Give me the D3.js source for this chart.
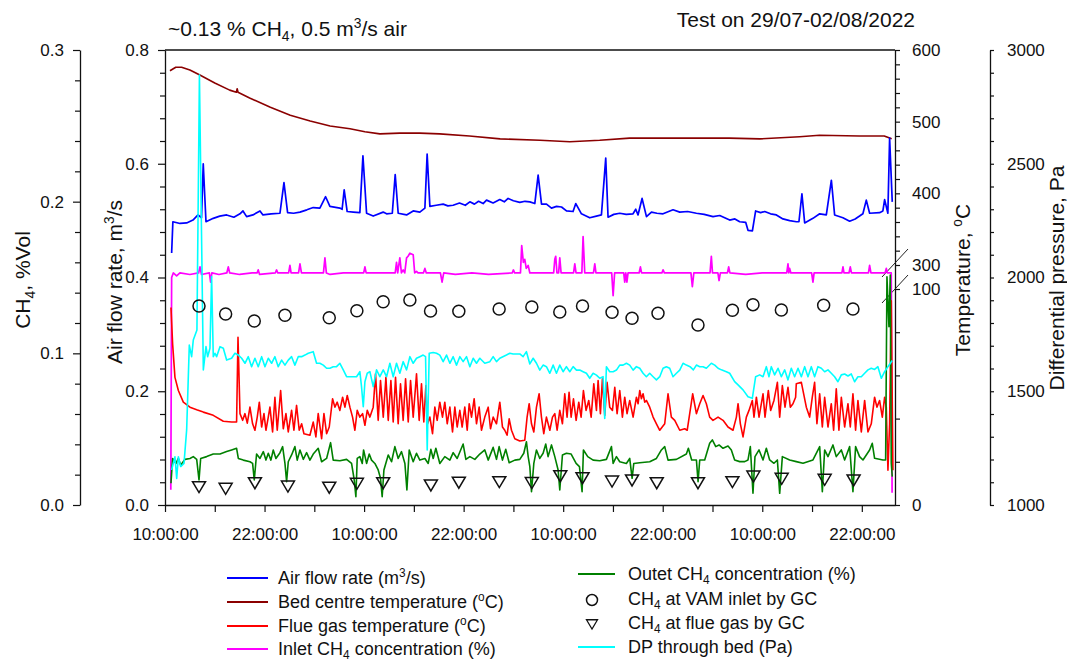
<!DOCTYPE html>
<html>
<head>
<meta charset="utf-8">
<script src="https://cdn.jsdelivr.net/npm/d3@7"></script>
<style>
  html, body { margin: 0; padding: 0; background: #fff; }
  svg text { font-family: "Liberation Sans", Arial, sans-serif; fill: #111; }
</style>
</head>
<body>
<svg id="chart" width="1067" height="663"></svg>
<script>
// ---- time axis: hours elapsed since 29/07/2022 10:00 ----
const startTime = new Date(2022, 6, 29, 10, 0, 0);
const endHours = 88;
const xTickHours = [0, 6, 12, 18, 24, 30, 36, 42, 48, 54, 60, 66, 72, 78, 84];

// ---- axis tick values ----
const airMajor = [0, 0.2, 0.4, 0.6, 0.8];
const airMinor = [0.04, 0.08, 0.12, 0.16, 0.24, 0.28, 0.32, 0.36, 0.44, 0.48, 0.52, 0.56, 0.64, 0.68, 0.72, 0.76];
const ch4Major = [0, 0.1, 0.2, 0.3];
const ch4Minor = [0.02, 0.04, 0.06, 0.08, 0.12, 0.14, 0.16, 0.18, 0.22, 0.24, 0.26, 0.28];
const tempMajor = [0, 100, 300, 400, 500, 600];
const tempMinor = [20, 40, 60, 80, 320, 340, 360, 380, 420, 440, 460, 480, 520, 540, 560, 580];
const dpMajor = [1000, 1500, 2000, 2500, 3000];
const dpMinor = [1100, 1200, 1300, 1400, 1600, 1700, 1800, 1900, 2100, 2200, 2300, 2400, 2600, 2700, 2800, 2900];

// ---- series: [hours, value] ----
// Air flow rate, m3/s
const airFlow = [[0.80,0.443],[0.95,0.498],[1.81,0.495],[2.61,0.496],[3.37,0.501],[3.98,0.510],[4.40,0.505],[4.61,0.600],[4.94,0.498],[5.82,0.504],[6.6,0.508],[7.43,0.510],[8.3,0.506],[9.04,0.512],[9.40,0.517],[9.84,0.507],[10.6,0.510],[11.45,0.517],[11.81,0.510],[12.8,0.512],[13.86,0.513],[14.34,0.567],[14.78,0.514],[15.5,0.513],[16.27,0.515],[17.1,0.519],[17.87,0.523],[18.67,0.522],[19.36,0.542],[19.88,0.525],[21.08,0.522],[21.35,0.520],[21.60,0.554],[21.96,0.516],[22.7,0.515],[23.49,0.514],[23.86,0.614],[24.30,0.513],[25.10,0.508],[26.30,0.515],[26.71,0.512],[27.40,0.513],[27.75,0.581],[28.11,0.513],[29.12,0.510],[29.92,0.517],[30.72,0.515],[31.33,0.522],[31.60,0.617],[31.93,0.525],[32.7,0.527],[33.53,0.529],[34.1,0.526],[34.73,0.527],[35.5,0.531],[36.2,0.527],[36.75,0.533],[37.3,0.529],[37.8,0.534],[38.35,0.530],[38.76,0.536],[39.55,0.531],[40.36,0.537],[40.9,0.533],[41.36,0.539],[42.0,0.535],[42.77,0.532],[43.4,0.534],[43.98,0.533],[44.58,0.530],[44.98,0.580],[45.39,0.529],[45.99,0.529],[46.59,0.522],[47.2,0.525],[47.80,0.524],[48.40,0.517],[49.19,0.516],[49.52,0.530],[50.20,0.512],[51.20,0.505],[52.0,0.508],[52.61,0.510],[53.13,0.610],[53.41,0.506],[54.1,0.511],[54.82,0.513],[55.6,0.511],[56.42,0.512],[56.75,0.520],[57.02,0.510],[57.51,0.539],[58.04,0.507],[58.64,0.515],[59.3,0.513],[60.04,0.512],[61.24,0.519],[62.05,0.515],[63.0,0.516],[64.06,0.513],[65.0,0.511],[66.06,0.507],[66.87,0.509],[68.07,0.501],[68.7,0.503],[69.28,0.498],[70.00,0.497],[70.28,0.483],[70.81,0.482],[71.20,0.517],[71.8,0.514],[72.29,0.516],[73.00,0.512],[73.70,0.510],[74.49,0.503],[75.3,0.500],[76.11,0.498],[76.42,0.498],[76.78,0.547],[77.11,0.496],[78.11,0.504],[78.92,0.512],[79.72,0.510],[80.33,0.571],[80.72,0.510],[81.72,0.505],[82.53,0.499],[83.2,0.503],[83.73,0.508],[84.13,0.512],[84.54,0.536],[84.94,0.513],[86.14,0.514],[86.54,0.517],[86.75,0.537],[87.14,0.513],[87.35,0.645],[87.67,0.533]];

// Bed centre temperature, degC
const bedTemp = [[0.6,571],[1.3,576],[2.0,576],[3.0,572],[4.2,565],[6.0,554],[7.8,544],[8.6,541],[8.7,546],[8.8,541],[10.2,533],[12.7,520],[15.1,509],[17.5,501],[19.9,494],[22.3,490],[24.1,486],[25.9,483],[28.3,484],[30.7,484],[33.1,483],[36.7,480],[40.4,476],[45.2,474],[48.8,472],[52.4,474],[56.0,477],[60.0,477],[64.5,477],[68.0,477],[71.7,476],[76.5,479],[78.9,481],[83.7,480],[86.7,480],[87.6,476]];

// Flue gas temperature, degC
const flueGasTemp = [[0.72,91.4],[0.92,74.5],[1.20,59.1],[1.61,53.0],[2.21,47.6],[3.01,45.3],[3.82,44.1],[4.62,43.0],[5.82,41.5],[7.03,38.8],[8.03,38.4],[8.63,38.4],[8.80,77.6],[9.04,42.3],[9.36,39.2],[9.64,42.3],[9.92,37.9],[10.24,45.3],[10.56,37.6],[10.84,34.6],[11.12,40.7],[11.37,47.6],[11.65,36.1],[11.93,42.3],[12.17,34.6],[12.45,40.7],[12.65,45.3],[12.97,33.8],[13.25,49.9],[13.53,34.6],[13.94,53.0],[14.26,35.3],[14.58,42.3],[14.86,33.8],[15.26,43.8],[15.54,34.6],[15.86,46.1],[16.18,34.6],[16.47,37.6],[16.75,33.0],[17.47,32.3],[17.87,38.4],[18.19,31.5],[18.47,42.3],[18.88,30.7],[19.16,42.3],[19.48,33.0],[19.80,36.1],[20.20,49.2],[20.48,45.3],[20.76,47.6],[21.08,43.8],[21.41,49.9],[21.69,45.3],[21.97,50.7],[22.29,45.3],[22.61,40.7],[22.89,34.6],[23.17,43.8],[23.49,40.7],[23.82,42.3],[24.10,36.9],[24.38,43.8],[24.70,40.7],[25.10,45.3],[25.38,60.7],[25.70,39.2],[25.98,57.6],[26.31,40.7],[26.63,59.1],[26.91,39.2],[27.23,57.6],[27.51,38.4],[27.79,59.1],[28.11,37.6],[28.39,56.1],[28.71,39.2],[29.00,58.4],[29.32,38.4],[29.60,57.6],[29.92,40.7],[30.32,60.7],[30.64,39.2],[30.92,56.1],[31.20,38.4],[31.45,55.3],[31.65,37.6],[31.93,40.7],[32.25,33.0],[32.53,45.3],[32.81,39.2],[33.13,47.6],[33.45,40.7],[33.73,47.6],[34.02,37.6],[34.34,45.3],[34.66,33.8],[34.94,45.3],[35.22,36.1],[35.54,43.8],[35.82,36.1],[36.14,45.3],[36.43,34.6],[36.67,46.9],[36.95,40.7],[37.27,49.2],[37.55,37.6],[37.87,45.3],[38.15,34.6],[38.55,40.7],[38.96,45.3],[39.24,35.3],[39.56,40.7],[39.96,37.6],[40.36,47.6],[40.68,36.1],[40.96,34.6],[41.24,32.3],[41.49,39.9],[41.77,34.6],[42.17,30.7],[42.77,29.6],[43.37,30.0],[43.65,40.7],[43.90,46.9],[44.18,37.6],[44.46,33.8],[44.78,45.3],[45.10,51.5],[45.38,40.7],[45.66,33.0],[45.98,40.7],[46.39,34.6],[46.71,40.7],[46.99,42.3],[47.27,34.6],[47.59,43.8],[47.91,37.6],[48.19,51.5],[48.47,40.7],[48.71,52.2],[48.96,40.7],[49.24,49.2],[49.56,39.2],[49.88,47.6],[50.16,40.7],[50.44,53.0],[50.76,43.8],[51.08,48.4],[51.37,40.7],[51.69,56.1],[52.01,43.8],[52.21,57.6],[52.49,42.3],[52.73,58.4],[53.01,41.5],[53.29,56.8],[53.61,45.3],[53.94,43.8],[54.22,54.5],[54.50,42.3],[54.82,53.0],[55.14,40.7],[55.42,49.9],[55.70,42.3],[56.02,48.4],[56.43,40.7],[56.83,49.9],[57.03,46.9],[57.23,53.0],[57.43,49.2],[57.63,51.5],[57.83,47.6],[58.03,48.4],[58.43,45.3],[58.84,40.7],[59.24,37.6],[59.64,34.6],[60.24,37.6],[60.64,51.5],[61.04,40.7],[61.45,39.2],[62.05,34.6],[62.65,35.3],[62.95,34.6],[63.61,51.5],[64.06,42.3],[64.46,46.9],[64.86,50.7],[65.26,46.9],[65.66,40.7],[66.06,39.2],[66.67,40.7],[67.27,39.2],[67.87,36.1],[68.47,34.6],[68.88,40.7],[69.08,46.9],[69.36,37.6],[69.68,31.5],[70.08,40.7],[70.40,43.8],[70.80,48.4],[71.00,40.7],[71.29,49.9],[71.61,40.7],[72.09,51.5],[72.33,40.7],[72.73,53.0],[73.01,43.8],[73.41,48.4],[73.82,56.8],[74.10,40.7],[74.42,55.3],[74.74,45.3],[75.10,54.5],[75.38,45.3],[75.70,46.9],[76.02,49.9],[76.10,56.1],[76.71,56.8],[77.31,45.3],[77.71,40.7],[78.03,49.9],[78.31,56.8],[78.59,37.6],[78.92,51.5],[79.24,36.1],[79.52,49.9],[79.92,36.1],[80.32,46.9],[80.60,34.6],[80.92,53.8],[81.24,34.6],[81.53,49.9],[81.93,36.1],[82.33,46.9],[82.61,36.1],[82.93,51.5],[83.25,34.6],[83.53,48.4],[83.94,33.8],[84.34,48.4],[84.74,33.8],[85.14,37.6],[85.54,49.9],[85.82,45.3],[86.14,48.4],[86.47,40.7],[86.75,49.9],[86.95,45.3],[87.15,16.1],[87.35,37.6],[87.55,94.5],[87.75,16.1]];

// Inlet CH4 concentration, %
const inletCH4 = [[0.70,0.010],[0.80,0.150],[1.0,0.153],[1.4,0.151],[1.8,0.153],[3.0,0.152],[4.05,0.153],[4.22,0.157],[4.40,0.152],[5.35,0.153],[5.50,0.147],[5.65,0.153],[6.5,0.152],[7.45,0.153],[7.63,0.157],[7.80,0.153],[9.0,0.152],[10.5,0.153],[11.10,0.153],[11.24,0.155],[11.40,0.152],[13.30,0.153],[13.45,0.155],[13.60,0.153],[14.90,0.153],[15.06,0.158],[15.20,0.153],[16.10,0.153],[16.27,0.159],[16.45,0.153],[19.10,0.153],[19.28,0.163],[19.45,0.153],[19.9,0.152],[21.5,0.153],[23.95,0.153],[24.10,0.157],[24.25,0.153],[27.75,0.153],[27.91,0.160],[28.05,0.153],[28.31,0.163],[28.50,0.153],[28.71,0.155],[28.90,0.153],[29.12,0.163],[29.30,0.164],[29.52,0.166],[29.92,0.165],[30.10,0.153],[30.32,0.154],[30.50,0.153],[31.15,0.153],[31.33,0.156],[31.50,0.153],[33.20,0.153],[33.40,0.147],[33.60,0.153],[35.0,0.152],[37.0,0.153],[39.0,0.152],[41.85,0.153],[42.00,0.155],[42.15,0.153],[42.85,0.153],[43.00,0.171],[43.20,0.160],[43.37,0.162],[43.55,0.156],[43.78,0.158],[43.98,0.153],[46.85,0.153],[46.99,0.162],[47.10,0.164],[47.25,0.153],[47.45,0.153],[47.59,0.163],[47.75,0.153],[49.25,0.153],[49.40,0.159],[49.55,0.153],[50.25,0.153],[50.40,0.177],[50.60,0.153],[51.65,0.153],[51.81,0.159],[51.95,0.153],[53.85,0.153],[54.02,0.138],[54.20,0.153],[55.30,0.153],[55.42,0.147],[55.55,0.153],[55.68,0.147],[55.82,0.153],[57.15,0.153],[57.31,0.157],[57.45,0.153],[59.90,0.153],[60.04,0.155],[60.20,0.153],[63.40,0.153],[63.57,0.144],[63.75,0.153],[65.70,0.153],[65.86,0.164],[66.00,0.153],[66.65,0.153],[66.79,0.148],[66.95,0.153],[67.80,0.153],[67.95,0.157],[68.10,0.153],[70.0,0.152],[72.0,0.153],[74.95,0.153],[75.10,0.159],[75.20,0.153],[75.30,0.156],[75.45,0.153],[77.95,0.153],[78.11,0.147],[78.25,0.153],[81.60,0.153],[81.73,0.157],[81.85,0.153],[82.45,0.153],[82.61,0.157],[82.75,0.153],[84.80,0.153],[84.94,0.158],[85.10,0.153],[86.80,0.153],[86.95,0.156],[87.10,0.153],[87.55,0.153],[87.65,0.008]];

// Outlet CH4 concentration, %
const outletCH4 = [[0.72,0.0143],[0.92,0.0307],[1.33,0.0274],[1.61,0.0307],[1.89,0.0263],[2.41,0.0301],[3.01,0.0307],[3.41,0.0319],[3.82,0.0301],[4.10,0.0165],[4.30,0.0307],[5.02,0.0319],[5.82,0.0336],[6.63,0.0336],[7.43,0.0352],[8.03,0.0363],[8.63,0.0374],[8.84,0.0307],[9.44,0.0296],[10.24,0.0285],[10.56,0.0274],[10.76,0.0165],[11.04,0.0336],[11.45,0.0307],[11.85,0.0352],[12.17,0.0296],[12.45,0.0341],[12.77,0.0296],[13.05,0.0363],[13.37,0.0307],[13.86,0.0345],[14.18,0.0385],[14.46,0.0274],[14.66,0.0154],[14.86,0.0285],[15.26,0.0330],[15.66,0.0385],[15.94,0.0296],[16.27,0.0363],[16.67,0.0301],[17.07,0.0345],[17.47,0.0296],[17.87,0.0336],[18.47,0.0374],[18.88,0.0285],[19.48,0.0307],[19.96,0.0411],[20.28,0.0296],[21.08,0.0292],[21.89,0.0301],[22.49,0.0274],[22.81,0.0165],[23.01,0.0055],[23.17,0.0307],[23.49,0.0319],[23.78,0.0274],[23.94,0.0363],[24.30,0.0274],[24.62,0.0336],[24.90,0.0296],[25.30,0.0274],[25.70,0.0231],[25.98,0.0176],[26.18,0.0055],[26.39,0.0231],[26.91,0.0330],[27.31,0.0285],[27.71,0.0385],[28.11,0.0307],[28.51,0.0352],[28.92,0.0274],[29.16,0.0099],[29.44,0.0363],[29.92,0.0285],[30.32,0.0341],[30.72,0.0296],[31.33,0.0307],[31.73,0.0274],[32.05,0.0367],[32.33,0.0307],[32.65,0.0374],[33.13,0.0274],[33.73,0.0319],[34.34,0.0296],[34.74,0.0345],[35.22,0.0307],[35.94,0.0402],[36.27,0.0301],[36.75,0.0319],[37.35,0.0301],[37.95,0.0336],[38.55,0.0363],[38.96,0.0296],[39.56,0.0380],[39.96,0.0301],[40.28,0.0385],[40.68,0.0296],[41.08,0.0367],[41.49,0.0279],[42.17,0.0296],[42.77,0.0301],[43.25,0.0341],[43.57,0.0417],[43.78,0.0319],[43.98,0.0253],[44.18,0.0088],[44.46,0.0274],[44.78,0.0363],[45.18,0.0307],[45.58,0.0341],[45.90,0.0402],[46.18,0.0319],[46.59,0.0396],[46.99,0.0319],[47.39,0.0231],[47.59,0.0099],[47.91,0.0330],[48.39,0.0341],[48.96,0.0336],[49.56,0.0274],[49.96,0.0253],[50.28,0.0088],[50.44,0.0363],[50.96,0.0319],[51.61,0.0296],[52.41,0.0292],[53.21,0.0301],[53.82,0.0385],[54.02,0.0274],[54.42,0.0319],[54.82,0.0285],[55.62,0.0274],[56.02,0.0307],[56.31,0.0176],[56.51,0.0274],[57.23,0.0279],[58.43,0.0285],[59.24,0.0307],[59.84,0.0363],[60.24,0.0385],[60.64,0.0296],[61.65,0.0301],[62.85,0.0336],[63.09,0.0374],[63.49,0.0297],[64.06,0.0297],[64.26,0.0154],[64.46,0.0297],[65.06,0.0297],[65.66,0.0407],[65.98,0.0429],[66.39,0.0385],[66.79,0.0396],[67.27,0.0374],[67.87,0.0389],[68.27,0.0363],[68.67,0.0297],[69.28,0.0286],[69.88,0.0286],[70.28,0.0297],[70.56,0.0385],[70.88,0.0077],[71.12,0.0319],[71.61,0.0363],[72.09,0.0297],[72.49,0.0374],[72.89,0.0297],[73.41,0.0275],[73.82,0.0297],[74.10,0.0077],[74.42,0.0319],[75.30,0.0297],[76.10,0.0286],[76.91,0.0275],[78.11,0.0297],[78.92,0.0385],[79.24,0.0088],[79.52,0.0363],[79.92,0.0319],[80.52,0.0396],[80.92,0.0319],[81.53,0.0363],[81.93,0.0297],[82.53,0.0385],[82.93,0.0088],[83.25,0.0385],[83.73,0.0319],[84.14,0.0297],[84.94,0.0363],[85.26,0.0407],[85.54,0.0308],[86.55,0.0297],[86.87,0.0297],[87.03,0.1505],[87.27,0.1176],[87.43,0.1516],[87.55,0.0275],[87.67,0.0187]];

// Differential pressure through bed, Pa
const bedDP = [[0.80,1154],[1.20,1212],[1.41,1117],[1.61,1212],[1.89,1169],[2.29,1183],[2.61,1330],[2.93,1703],[3.21,1652],[3.41,1725],[3.85,1769],[4.15,2890],[4.62,1594],[4.94,1696],[5.14,1652],[5.42,1689],[5.62,2004],[5.82,1652],[6.02,1667],[6.22,1652],[6.63,1696],[7.03,1689],[7.43,1637],[8.03,1645],[8.43,1667],[8.84,1659],[9.24,1645],[9.64,1623],[10.04,1652],[10.44,1608],[10.84,1645],[11.24,1608],[11.65,1652],[12.05,1608],[12.45,1645],[12.85,1623],[13.25,1652],[13.65,1608],[14.06,1637],[14.46,1615],[14.86,1637],[15.26,1652],[15.66,1615],[16.06,1652],[16.47,1652],[16.87,1659],[17.27,1667],[17.87,1674],[18.27,1623],[18.67,1623],[19.08,1615],[19.48,1601],[19.88,1601],[20.28,1608],[20.68,1608],[21.08,1623],[21.49,1594],[21.89,1564],[22.49,1564],[23.09,1564],[23.49,1586],[23.69,1520],[23.90,1432],[24.10,1542],[24.38,1579],[24.70,1586],[25.10,1520],[25.50,1594],[25.90,1564],[26.31,1594],[26.71,1564],[27.11,1623],[27.51,1564],[27.91,1623],[28.31,1579],[28.71,1630],[29.12,1594],[29.52,1652],[29.92,1623],[30.32,1645],[30.72,1652],[31.12,1659],[31.41,1652],[31.61,1242],[31.85,1667],[32.33,1670],[32.73,1667],[33.13,1659],[33.53,1630],[33.94,1659],[34.34,1623],[34.74,1652],[35.14,1615],[35.54,1652],[35.94,1630],[36.35,1652],[36.75,1608],[37.15,1645],[37.55,1623],[37.95,1645],[38.55,1623],[39.16,1630],[39.56,1652],[39.96,1630],[40.36,1645],[41.16,1659],[41.57,1667],[41.97,1664],[42.77,1664],[43.17,1652],[43.57,1674],[43.98,1620],[44.38,1645],[44.78,1623],[45.18,1593],[45.58,1615],[45.98,1608],[46.39,1579],[46.79,1615],[47.19,1579],[47.59,1615],[47.99,1586],[48.39,1608],[48.80,1586],[49.20,1608],[49.60,1593],[50.00,1593],[50.40,1586],[50.80,1579],[51.20,1557],[51.61,1579],[52.01,1571],[52.41,1557],[52.81,1564],[53.01,1380],[53.21,1608],[53.61,1586],[54.02,1586],[54.42,1593],[54.82,1615],[55.22,1615],[55.62,1623],[56.02,1615],[56.43,1593],[56.83,1608],[57.23,1601],[57.63,1579],[58.03,1564],[58.43,1579],[58.84,1564],[59.24,1550],[59.64,1564],[60.04,1601],[60.44,1608],[60.84,1601],[61.24,1564],[61.65,1579],[62.05,1593],[62.45,1623],[62.85,1615],[63.29,1608],[63.69,1594],[64.06,1615],[64.46,1608],[64.86,1608],[65.26,1601],[65.86,1623],[66.27,1615],[66.67,1601],[67.07,1594],[67.67,1586],[68.07,1579],[68.67,1542],[69.08,1528],[69.68,1506],[70.28,1476],[70.80,1469],[71.20,1564],[71.69,1572],[72.09,1564],[72.49,1608],[72.81,1564],[73.09,1608],[73.49,1572],[73.90,1601],[74.30,1564],[74.70,1594],[75.10,1550],[75.50,1601],[75.90,1564],[76.31,1601],[76.71,1564],[77.11,1608],[77.51,1564],[77.91,1608],[78.31,1564],[78.71,1608],[79.12,1601],[79.52,1586],[79.92,1594],[80.32,1579],[80.72,1564],[81.12,1542],[81.53,1572],[81.93,1576],[82.33,1567],[82.73,1576],[83.13,1542],[83.53,1564],[83.94,1564],[84.34,1579],[84.74,1594],[85.14,1601],[85.54,1596],[85.94,1608],[86.35,1557],[86.75,1586],[87.15,1608],[87.67,1635]];

// Gas chromatograph samples, %
const gcInletHours = [4.10, 7.31, 10.76, 14.46, 19.80, 23.13, 26.30, 29.52, 32.01, 35.42, 40.28, 44.22, 47.59, 50.33, 53.89, 56.30, 59.43, 64.25, 68.40, 70.88, 74.30, 79.40, 82.93];
const gcInletCH4 = [0.1312, 0.1259, 0.1213, 0.1251, 0.1235, 0.1281, 0.1340, 0.1352, 0.1279, 0.1277, 0.1292, 0.1305, 0.1273, 0.1312, 0.1271, 0.1231, 0.1264, 0.1187, 0.1284, 0.1321, 0.1286, 0.1317, 0.1292];
const gcFlueHours = [4.10, 7.31, 10.84, 14.82, 19.80, 23.13, 26.30, 32.05, 35.42, 40.30, 44.22, 47.65, 50.33, 53.89, 56.30, 59.28, 64.25, 68.40, 70.93, 74.34, 79.52, 83.01];
const gcFlueCH4 = [0.0121, 0.0110, 0.0147, 0.0125, 0.0117, 0.0143, 0.0147, 0.0132, 0.0150, 0.0154, 0.0148, 0.0193, 0.0180, 0.0158, 0.0165, 0.0147, 0.0147, 0.0154, 0.0191, 0.0176, 0.0169, 0.0165];

// ---- layout ----
const svg = d3.select("#chart");
const plotLeft = 165, plotRight = 895, plotTop = 50, plotBottom = 505;
const toDate = h => new Date(startTime.getTime() + h * 3600e3);

const x = d3.scaleTime().domain([startTime, toDate(endHours)]).range([plotLeft, plotRight]);
const yAir = d3.scaleLinear().domain([0, 0.8]).range([plotBottom, plotTop]);
const yCH4 = d3.scaleLinear().domain([0, 0.3]).range([plotBottom, plotTop]);
// broken temperature axis: 0-100 on the lower part, 300-600 on the upper part
const yTemp = d3.scaleLinear().domain([0, 100, 300, 600]).range([plotBottom, 289, 265, plotTop]);
const yDP = d3.scaleLinear().domain([1000, 3000]).range([plotBottom, plotTop]);

svg.append("rect").attr("width", 1067).attr("height", 663).attr("fill", "#fff");

// rich text: "_{..}" subscript, "^{..}" superscript
function rich(sel, str, fs) {
  const re = /([_^])\{([^}]*)\}/g;
  let last = 0, shift = 0, m;
  const push = (t, mode) => {
    if (!t) return;
    const ts = sel.append("tspan").text(t);
    const target = mode === "sub" ? 0.24 * fs : mode === "sup" ? -0.38 * fs : 0;
    if (target !== shift) { ts.attr("dy", target - shift); shift = target; }
    if (mode) ts.attr("font-size", fs * 0.66);
  };
  while ((m = re.exec(str))) {
    push(str.slice(last, m.index), null);
    push(m[2], m[1] === "_" ? "sub" : "sup");
    last = re.lastIndex;
  }
  push(str.slice(last), null);
  return sel;
}

// ---- axes ----
const tickFont = 17;
function styleAxis(g) {
  g.selectAll("path.domain").attr("stroke", "#111").attr("stroke-width", 1.3);
  g.selectAll(".tick line").attr("stroke", "#111").attr("stroke-width", 1.2);
  g.selectAll(".tick text").attr("font-size", tickFont).attr("font-family", "Liberation Sans, Arial, sans-serif").attr("fill", "#111");
}

// time axis
const fmtTime = d3.timeFormat("%H:%M:%S");
svg.append("g").attr("transform", `translate(0,${plotBottom})`)
  .call(d3.axisBottom(x).tickValues(xTickHours.map(toDate)).tickSizeInner(7).tickSizeOuter(0).tickPadding(16)
    .tickFormat((d, i) => xTickHours[i] % 12 === 0 ? fmtTime(d) : ""))
  .call(styleAxis);

// frame top
svg.append("line").attr("x1", plotLeft).attr("x2", plotRight).attr("y1", plotTop).attr("y2", plotTop)
  .attr("stroke", "#111").attr("stroke-width", 1.3);

// air flow axis
svg.append("g").attr("transform", `translate(${plotLeft},0)`)
  .call(d3.axisLeft(yAir).tickValues(airMajor).tickSizeInner(7).tickSizeOuter(0).tickPadding(9).tickFormat(d3.format(".1f")))
  .call(styleAxis);
svg.append("g").attr("transform", `translate(${plotLeft},0)`)
  .call(d3.axisLeft(yAir).tickValues(airMinor).tickSizeInner(5).tickSizeOuter(0).tickFormat(""))
  .call(styleAxis).call(g => g.select("path.domain").remove());

// CH4 axis
const xCH4 = 80;
svg.append("g").attr("transform", `translate(${xCH4},0)`)
  .call(d3.axisLeft(yCH4).tickValues(ch4Major).tickSizeInner(7).tickSizeOuter(0).tickPadding(9).tickFormat(d3.format(".1f")))
  .call(styleAxis);
svg.append("g").attr("transform", `translate(${xCH4},0)`)
  .call(d3.axisLeft(yCH4).tickValues(ch4Minor).tickSizeInner(5).tickSizeOuter(0).tickFormat(""))
  .call(styleAxis).call(g => g.select("path.domain").remove());

// temperature axis
svg.append("g").attr("transform", `translate(${plotRight},0)`)
  .call(d3.axisRight(yTemp).tickValues(tempMajor).tickSizeInner(5).tickSizeOuter(0).tickPadding(12).tickFormat(d3.format("d")))
  .call(styleAxis);
svg.append("g").attr("transform", `translate(${plotRight},0)`)
  .call(d3.axisRight(yTemp).tickValues(tempMinor).tickSizeInner(5).tickSizeOuter(0).tickFormat(""))
  .call(styleAxis).call(g => g.select("path.domain").remove());
// axis break marks
[263, 289].forEach(yc => {
  svg.append("line").attr("x1", plotRight - 13).attr("y1", yc + 14).attr("x2", plotRight + 13).attr("y2", yc - 14)
    .attr("stroke", "#222").attr("stroke-width", 1);
});

// differential pressure axis
const xDP = 990;
svg.append("g").attr("transform", `translate(${xDP},0)`)
  .call(d3.axisRight(yDP).tickValues(dpMajor).tickSizeInner(4).tickSizeOuter(0).tickPadding(13).tickFormat(d3.format("d")))
  .call(styleAxis);
svg.append("g").attr("transform", `translate(${xDP},0)`)
  .call(d3.axisRight(yDP).tickValues(dpMinor).tickSizeInner(4).tickSizeOuter(0).tickFormat(""))
  .call(styleAxis).call(g => g.select("path.domain").remove());

// ---- axis titles ----
const titleFont = 21;
function vTitle(xp, yp, str) {
  const t = svg.append("text").attr("transform", `translate(${xp},${yp}) rotate(-90)`)
    .attr("text-anchor", "middle").attr("font-size", titleFont);
  rich(t, str, titleFont);
}
vTitle(30, 280, "CH_{4}, %Vol");
vTitle(122, 282, "Air flow rate, m^{3}/s");
vTitle(970, 280, "Temperature, ^{o}C");
vTitle(1064, 278, "Differential pressure, Pa");

rich(svg.append("text").attr("x", 168).attr("y", 36).attr("font-size", titleFont), "~0.13 % CH_{4}, 0.5 m^{3}/s air", titleFont);
svg.append("text").attr("x", 915).attr("y", 27).attr("text-anchor", "end").attr("font-size", titleFont)
  .text("Test on 29/07-02/08/2022");

// ---- series ----
const plot = svg.append("g");
function drawLine(data, yScale, color, width) {
  plot.append("path").datum(data)
    .attr("fill", "none").attr("stroke", color).attr("stroke-width", width)
    .attr("stroke-linejoin", "round")
    .attr("d", d3.line().x(d => x(toDate(d[0]))).y(d => yScale(d[1])));
}
drawLine(bedTemp, yTemp, "#8b0000", 1.6);
drawLine(airFlow, yAir, "#0000ff", 1.7);
drawLine(inletCH4, yCH4, "#ff00ff", 1.7);
drawLine(flueGasTemp, yTemp, "#ff0000", 1.6);
drawLine(outletCH4, yCH4, "#008000", 1.6);
drawLine(bedDP, yDP, "#00ffff", 1.6);

const triPath = "M-6.5,-5L6.5,-5L0,6Z";
plot.selectAll("circle.gcin").data(gcInletHours).enter().append("circle")
  .attr("cx", (h) => x(toDate(h))).attr("cy", (h, i) => yCH4(gcInletCH4[i]))
  .attr("r", 6).attr("fill", "none").attr("stroke", "#111").attr("stroke-width", 1.5);
plot.selectAll("path.gcflue").data(gcFlueHours).enter().append("path")
  .attr("d", triPath)
  .attr("transform", (h, i) => `translate(${x(toDate(h))},${yCH4(gcFlueCH4[i])})`)
  .attr("fill", "none").attr("stroke", "#111").attr("stroke-width", 1.5);

// ---- legend ----
const legendFont = 18;
const legendLeft = [
  { label: "Air flow rate (m^{3}/s)", color: "#0000ff", y: 578 },
  { label: "Bed centre temperature (^{o}C)", color: "#8b0000", y: 602 },
  { label: "Flue gas temperature (^{o}C)", color: "#ff0000", y: 626 },
  { label: "Inlet CH_{4} concentration (%)", color: "#ff00ff", y: 649 }
];
legendLeft.forEach(e => {
  svg.append("line").attr("x1", 227).attr("x2", 268).attr("y1", e.y).attr("y2", e.y)
    .attr("stroke", e.color).attr("stroke-width", 2);
  rich(svg.append("text").attr("x", 278).attr("y", e.y + 6).attr("font-size", legendFont), e.label, legendFont);
});
const legendRight = [
  { label: "Outet CH_{4} concentration (%)", kind: "line", color: "#008000", y: 574 },
  { label: "CH_{4} at VAM inlet by GC", kind: "circle", y: 599 },
  { label: "CH_{4} at flue gas by GC", kind: "tri", y: 623 },
  { label: "DP through bed (Pa)", kind: "line", color: "#00ffff", y: 647 }
];
legendRight.forEach(e => {
  if (e.kind === "line") {
    svg.append("line").attr("x1", 578).attr("x2", 615).attr("y1", e.y).attr("y2", e.y)
      .attr("stroke", e.color).attr("stroke-width", 2);
  } else if (e.kind === "circle") {
    svg.append("circle").attr("cx", 592).attr("cy", e.y + 1).attr("r", 5.5)
      .attr("fill", "none").attr("stroke", "#111").attr("stroke-width", 1.5);
  } else {
    svg.append("path").attr("d", triPath).attr("transform", `translate(592,${e.y + 1}) scale(0.85)`)
      .attr("fill", "none").attr("stroke", "#111").attr("stroke-width", 1.5);
  }
  rich(svg.append("text").attr("x", 628).attr("y", e.y + 6).attr("font-size", legendFont), e.label, legendFont);
});
</script>
</body>
</html>
